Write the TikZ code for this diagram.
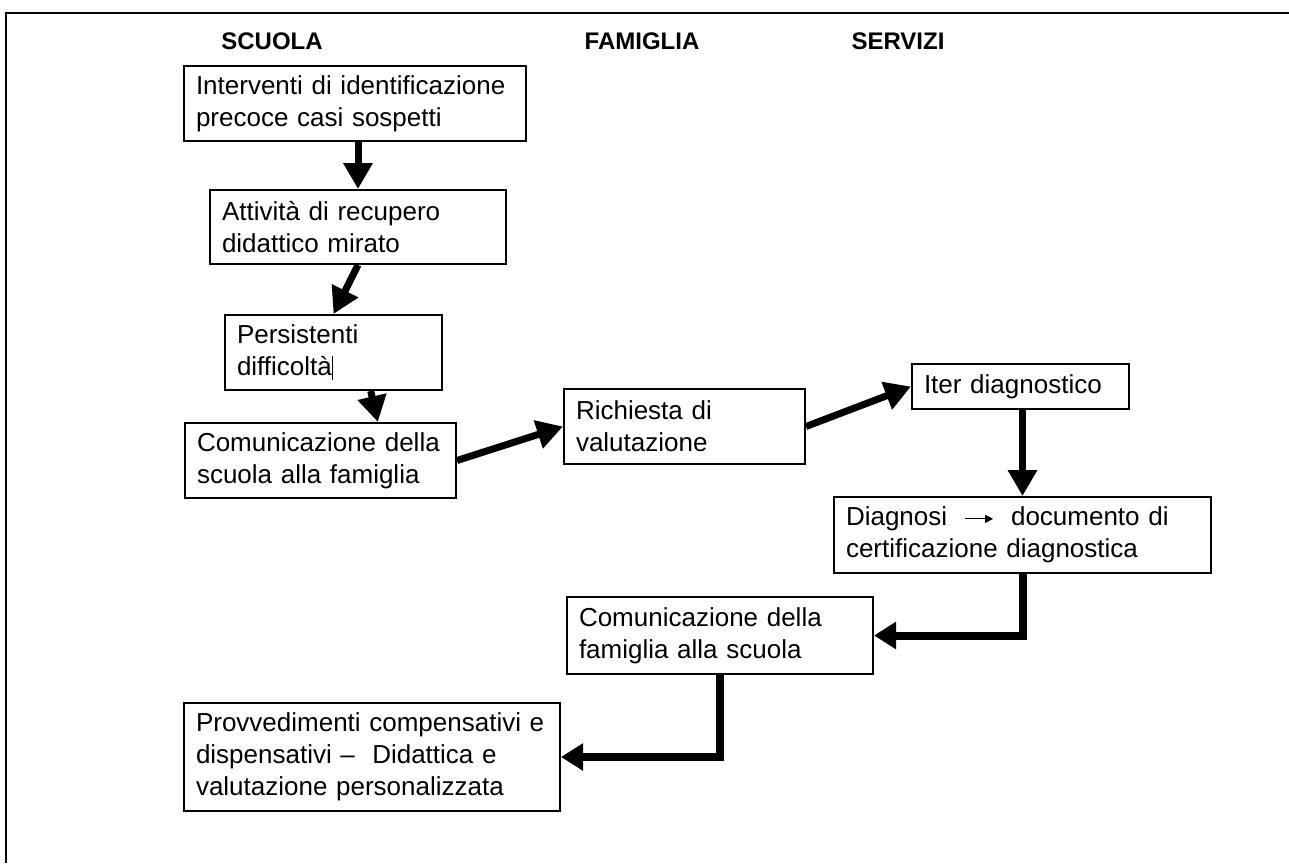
\documentclass[tikz,border=0pt]{standalone}
\usepackage{fontspec}
\setmainfont{Liberation Sans}
\usetikzlibrary{arrows.meta,calc}

\tikzset{
  box/.style={draw,line width=1pt,anchor=north west,align=left,inner xsep=6pt,inner ysep=0pt,
    font=\fontsize{13}{16}\selectfont},
  titolo/.style={font=\fontsize{12}{14}\selectfont\bfseries},
  freccia/.style={line width=3.5pt,-{Triangle[length=13pt,width=14pt]}},
  gomito/.style={line width=4pt,-{Triangle[length=11pt,width=13pt]}}
}
\newcommand{\freccina}{\tikz[baseline=-0.5ex]\draw[line width=0.6pt,-{Triangle[length=4pt,width=4pt]}] (0pt,0pt) -- (14pt,0pt);}

\begin{document}
\begin{tikzpicture}[x=0.5pt,y=-0.5pt]
        \useasboundingbox (0,0) rectangle (1289,863);
        \draw[line width=1pt] (1289,13) -- (6,13) -- (6,863);
        % colonne
        \node[titolo] (S) at (272,41) {SCUOLA};
        \node[titolo] (F) at (642,41) {FAMIGLIA};
        \node[titolo] (V) at (898,41) {SERVIZI};
        % riquadri
        \node[box,text width=159pt,minimum height=37.5pt] (A) at (183,65)
          {Interventi di identificazione\\precoce casi sospetti};
        \node[box,text width=136pt,minimum height=37pt] (B) at (209,189)
          {Attività di recupero\\didattico mirato};
        \node[box,text width=96.5pt,minimum height=37.5pt] (C) at (224,314)
          {Persistenti\\difficoltà\rule[-2pt]{0.7pt}{12pt}};
        \node[box,text width=123.5pt,minimum height=37.5pt] (D) at (184,422)
          {Comunicazione della\\scuola alla famiglia};
        \node[box,text width=108.5pt,minimum height=37.5pt] (E) at (563,388)
          {Richiesta di\\valutazione};
        \node[box,text width=96.5pt,minimum height=22.5pt] (G) at (911,363)
          {Iter diagnostico};
        \node[box,text width=176.5pt,minimum height=38pt] (H) at (833,496)
          {Diagnosi \ \freccina\ \ documento di\\certificazione diagnostica};
        \node[box,text width=141pt,minimum height=38.5pt] (I) at (566,596)
          {Comunicazione della\\famiglia alla scuola};
        \node[box,text width=176pt,minimum height=54pt] (J) at (183,702)
          {Provvedimenti compensativi e\\dispensativi --\ \ Didattica e\\valutazione personalizzata};
        % frecce
        \draw[freccia] (B.north |- A.south) -- (B.north);
        \draw[freccia] (B.south) -- (C.north);
        \draw[freccia] ($(C.south west)!0.67!(C.south east)$) -- ($(D.north west)!0.71!(D.north east)$);
        \draw[freccia] (D.east) -- (E.west);
        \draw[freccia] (E.east) -- (G.west);
        \draw[freccia] (H.north |- G.south) -- (H.north);
        \draw[gomito] (H.south) |- (I.east);
        \draw[gomito] (I.south) |- (J.east);
\end{tikzpicture}
\end{document}
